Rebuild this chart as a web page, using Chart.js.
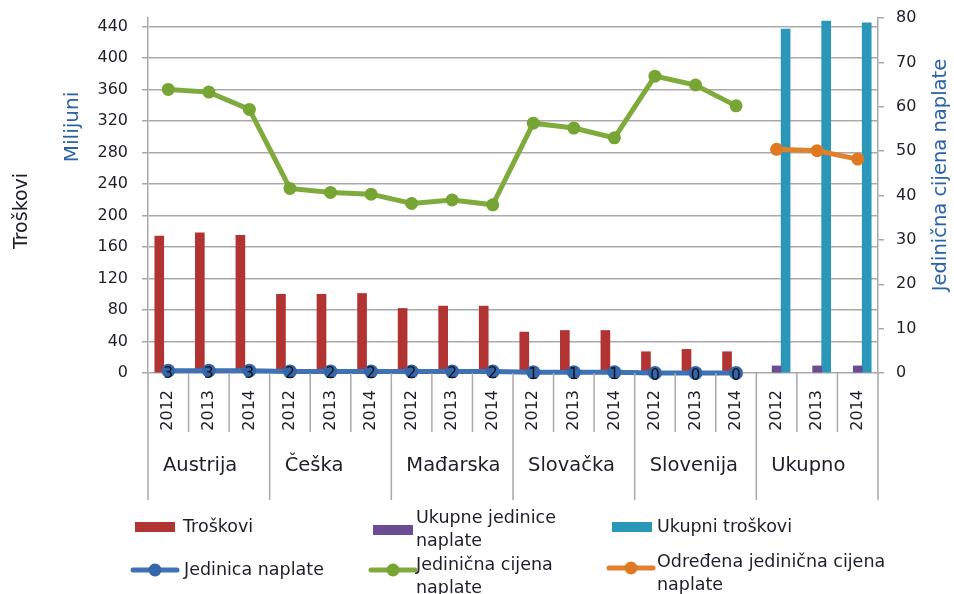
<!DOCTYPE html>
<html>
<head>
<meta charset="utf-8">
<script src="https://cdn.jsdelivr.net/npm/chart.js@4/dist/chart.umd.min.js"></script>
<style>
  html, body { margin: 0; padding: 0; background: #fff; }
  #wrap { width: 954px; height: 594px; position: relative; }
</style>
</head>
<body>
<div id="wrap"><canvas id="c" width="954" height="594"></canvas></div>
<script>
// ---- data ----
const groups = ['Austrija', 'Češka', 'Mađarska', 'Slovačka', 'Slovenija', 'Ukupno'];
const years = ['2012', '2013', '2014'];
const leftTicks = [0, 40, 80, 120, 160, 200, 240, 280, 320, 360, 400, 440];
const rightTicks = [0, 10, 20, 30, 40, 50, 60, 70, 80];

const troskovi          = [174, 178, 175, 100, 100, 101, 82, 85, 85, 52, 54, 54, 27, 30, 27, null, null, null];
const ukupneJedinice    = [null, null, null, null, null, null, null, null, null, null, null, null, null, null, null, 9, 9, 9];
const ukupniTroskovi    = [null, null, null, null, null, null, null, null, null, null, null, null, null, null, null, 437, 447, 445];
const jedinicaNaplate   = [3, 3, 3, 2, 2, 2, 2, 2, 2, 1, 1, 1, 0, 0, 0, null, null, null];
const jedinicnaCijena   = [63.9, 63.3, 59.4, 41.6, 40.7, 40.3, 38.2, 39.0, 37.9, 56.3, 55.2, 53.0, 66.9, 64.9, 60.2, null, null, null];
const odredjenaCijena   = [null, null, null, null, null, null, null, null, null, null, null, null, null, null, null, 50.4, 50.1, 48.2];

const labels = groups.flatMap(() => years);

const FONT = "'DejaVu Sans'";
const TXT = '#1e1e28';
const BLUE_TITLE = '#2a62a6';
const GRID = '#a9a9a9';

const C_RED = '#b23432', C_PURPLE = '#6d4b94', C_TEAL = '#2b97b8';
const C_BLUE = '#3e72b5', C_GREEN = '#7eab3c', C_ORANGE = '#e2802d';

function zeroPad(s) { s.paddingTop = 0; s.paddingBottom = 0; s.paddingLeft = 0; s.paddingRight = 0; }

const extras = {
  id: 'extras',
  afterDatasetsDraw(chart) {
    // value labels on "Jedinica naplate"
    const ctx = chart.ctx;
    const meta = chart.getDatasetMeta(0);
    const ds = chart.data.datasets[0];
    ctx.save();
    ctx.font = '15px ' + FONT;
    ctx.fillStyle = '#10101a';
    ctx.textAlign = 'center';
    ctx.textBaseline = 'middle';
    meta.data.forEach((pt, i) => {
      const v = ds.data[i];
      if (v === null || v === undefined) return;
      ctx.fillText(String(Math.round(v)), pt.x, pt.y + 3);
    });
    ctx.restore();
  },
  afterDraw(chart) {
    const { ctx, chartArea: ca } = chart;
    const n = chart.data.labels.length;
    const w = (ca.right - ca.left) / n;
    ctx.save();
    // category separators below the axis
    ctx.strokeStyle = GRID;
    ctx.lineWidth = 1.5;
    for (let k = 0; k <= n; k++) {
      const px = ca.left + k * w;
      const isGroup = k % years.length === 0;
      ctx.beginPath();
      ctx.moveTo(px, ca.bottom);
      ctx.lineTo(px, isGroup ? ca.bottom + 127 : ca.bottom + 59);
      ctx.stroke();
    }
    // group labels
    ctx.fillStyle = TXT;
    ctx.font = '19.5px ' + FONT;
    ctx.textAlign = 'left';
    ctx.textBaseline = 'alphabetic';
    groups.forEach((g, i) => {
      ctx.fillText(g, ca.left + i * years.length * w + 15, ca.bottom + 98);
    });
    // axis titles
    const vtext = (t, x, y, color, size) => {
      ctx.save();
      ctx.translate(x, y);
      ctx.rotate(-Math.PI / 2);
      ctx.fillStyle = color;
      ctx.font = size + 'px ' + FONT;
      ctx.textAlign = 'center';
      ctx.textBaseline = 'middle';
      ctx.fillText(t, 0, 0);
      ctx.restore();
    };
    vtext('Troškovi', 22, 211, TXT, 19);
    vtext('Milijuni', 73, 127, BLUE_TITLE, 20);
    vtext('Jedinična cijena naplate', 941, 175, BLUE_TITLE, 19.5);

    // legend
    const ds = chart.data.datasets;
    const byLabel = {};
    ds.forEach(d => { byLabel[d.label] = d; });
    const items = [
      { d: 'Troškovi', x: 135, y: 527, maxW: 180, tx: 183, ty: 527 },
      { d: 'Ukupne jedinice naplate', x: 373, y: 530, maxW: 175, tx: 416, ty: 518 },
      { d: 'Ukupni troškovi', x: 612, y: 527, maxW: 260, tx: 657, ty: 527 },
      { d: 'Jedinica naplate', x: 133, y: 570, maxW: 180, tx: 184, ty: 570 },
      { d: 'Jedinična cijena naplate', x: 371, y: 570, maxW: 175, tx: 416, ty: 565 },
      { d: 'Određena jedinična cijena naplate', x: 609, y: 568, maxW: 260, tx: 657, ty: 562 }
    ];
    ctx.font = '17.5px ' + FONT;
    items.forEach(it => {
      const d = byLabel[it.d];
      const isLine = d.type === 'line';
      if (isLine) {
        ctx.strokeStyle = d.borderColor;
        ctx.lineWidth = 5;
        ctx.lineCap = 'round';
        ctx.beginPath();
        ctx.moveTo(it.x, it.y);
        ctx.lineTo(it.x + 44, it.y);
        ctx.stroke();
        ctx.fillStyle = d.pointBackgroundColor;
        ctx.beginPath();
        ctx.arc(it.x + 22, it.y, 6.5, 0, Math.PI * 2);
        ctx.fill();
      } else {
        ctx.fillStyle = d.backgroundColor;
        ctx.fillRect(it.x, it.y - 5, 40, 10);
      }
      // wrap text
      const words = d.label.split(' ');
      const lines = [];
      let cur = '';
      words.forEach(wd => {
        const t = cur ? cur + ' ' + wd : wd;
        if (ctx.measureText(t).width > it.maxW && cur) { lines.push(cur); cur = wd; }
        else cur = t;
      });
      lines.push(cur);
      ctx.fillStyle = TXT;
      ctx.textAlign = 'left';
      ctx.textBaseline = 'middle';
      const lh = 23.5;
      lines.forEach((ln, i) => ctx.fillText(ln, it.tx, it.ty + i * lh));
    });
    ctx.restore();
  }
};

new Chart(document.getElementById('c'), {
  data: {
    labels: labels,
    datasets: [
      { type: 'line', label: 'Jedinica naplate', data: jedinicaNaplate, yAxisID: 'y',
        borderColor: C_BLUE, borderWidth: 5, pointRadius: 7, pointBackgroundColor: '#3466a8',
        pointBorderWidth: 0, pointHoverRadius: 7, clip: false, order: 0 },
      { type: 'line', label: 'Jedinična cijena naplate', data: jedinicnaCijena, yAxisID: 'y1',
        borderColor: C_GREEN, borderWidth: 5, pointRadius: 6.5, pointBackgroundColor: '#76a534',
        pointBorderWidth: 0, clip: false, order: 0 },
      { type: 'line', label: 'Određena jedinična cijena naplate', data: odredjenaCijena, yAxisID: 'y1',
        borderColor: C_ORANGE, borderWidth: 5, pointRadius: 6.5, pointBackgroundColor: '#e07a22',
        pointBorderWidth: 0, clip: false, order: 0 },
      { type: 'bar', label: 'Troškovi', data: troskovi, yAxisID: 'y',
        backgroundColor: C_RED, barThickness: 9, order: 1 },
      { type: 'bar', label: 'Ukupne jedinice naplate', data: ukupneJedinice, yAxisID: 'y',
        backgroundColor: C_PURPLE, barThickness: 9, order: 1 },
      { type: 'bar', label: 'Ukupni troškovi', data: ukupniTroskovi, yAxisID: 'y',
        backgroundColor: C_TEAL, barThickness: 9, order: 1 }
    ]
  },
  options: {
    responsive: false,
    animation: false,
    events: [],
    layout: { padding: { top: 18, left: 0, right: 0, bottom: 0 } },
    plugins: { legend: { display: false }, tooltip: { enabled: false }, title: { display: false } },
    scales: {
      x: {
        type: 'category',
        offset: true,
        grid: { display: false },
        border: { display: false },
        ticks: {
          autoSkip: false, minRotation: 90, maxRotation: 90, padding: 9,
          color: TXT, font: { family: FONT, size: 16 }
        },
        afterFit(s) { s.height = 221; zeroPad(s); }
      },
      y: {
        type: 'linear', position: 'left', min: 0, max: 451,
        ticks: { stepSize: 40, padding: 14, color: TXT, font: { family: FONT, size: 16 } },
        afterBuildTicks(s) { s.ticks = leftTicks.map(v => ({ value: v })); },
        grid: { color: GRID, lineWidth: 1.5, tickLength: 6, drawTicks: true },
        border: { display: true, color: GRID, width: 1.5 },
        afterFit(s) { s.width = 148; zeroPad(s); }
      },
      y1: {
        type: 'linear', position: 'right', min: 0, max: 80,
        ticks: { stepSize: 10, padding: 12, color: TXT, font: { family: FONT, size: 16 } },
        afterBuildTicks(s) { s.ticks = rightTicks.map(v => ({ value: v })); },
        grid: { drawOnChartArea: false, color: GRID, lineWidth: 1.5, tickLength: 6 },
        border: { display: true, color: GRID, width: 1.5 },
        afterFit(s) { s.width = 76; zeroPad(s); }
      }
    }
  },
  plugins: [extras]
});
</script>
</body>
</html>
